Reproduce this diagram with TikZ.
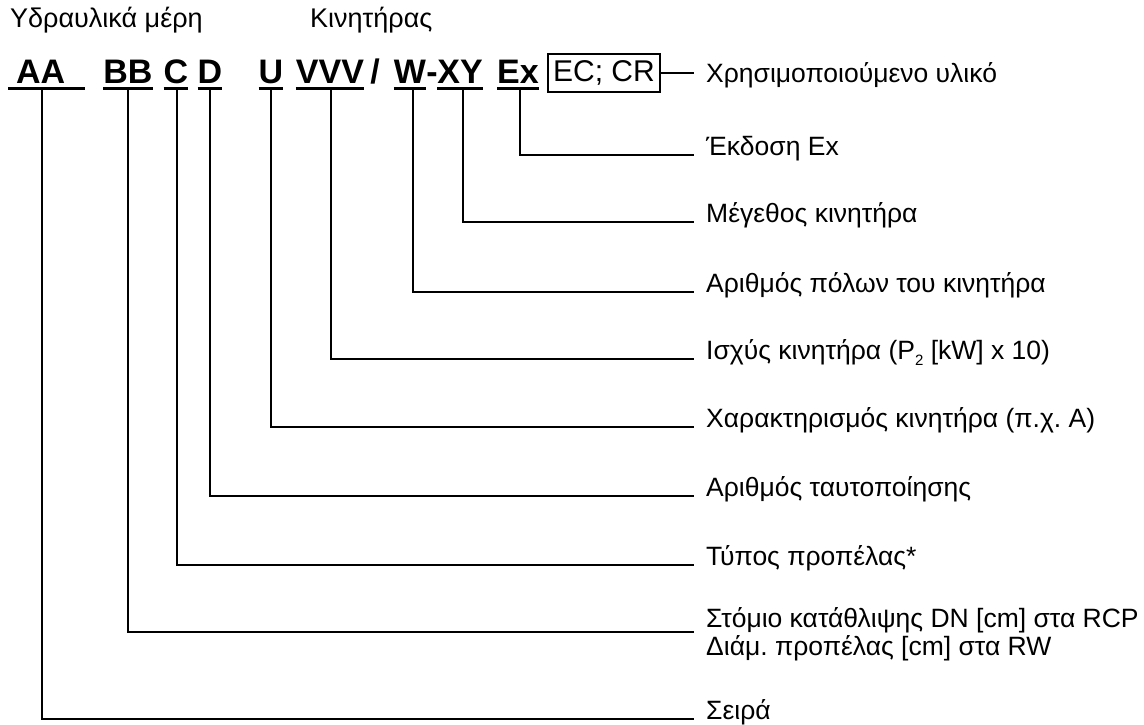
\documentclass[tikz,border=0pt]{standalone}
\usepackage{fontspec}
\setmainfont{Liberation Sans}
\frenchspacing
\begin{document}
\begin{tikzpicture}[x=1pt,y=-1pt,
  code/.style={font=\fontsize{34}{36}\selectfont\bfseries, inner sep=0pt, text depth=0pt, anchor=base},
  lab/.style={font=\fontsize{26.5}{28}\selectfont, inner xsep=12pt, inner ysep=0pt, anchor=base west, align=left},
  head/.style={font=\fontsize{27}{30}\selectfont, inner sep=0pt, anchor=base west},
  ul/.style={line width=3pt},
  conn/.style={line width=1.6pt},
]
\useasboundingbox (0,0) rectangle (1144,725);

% group headings
\node[head] (hyd) at (10,28) {Υδραυλικά μέρη};
\node[head] (mot) at (310,28) {Κινητήρας};

% type code
\node[code,anchor=base west] (aa) at (8,84) {\hspace*{8pt}AA\hspace*{19pt}};
\node[code] (bb) at (128,84) {BB};
\node[code] (c) at (176,84) {C};
\node[code] (d) at (210,84) {D};
\node[code] (u) at (271,84) {U};
\node[code] (v) at (330,84) {VVV};
\node[code] (slash) at (375,84) {/};
\node[code] (w) at (410,84) {W};
\node[code] (dash) at (432,84) {-};
\node[code] (xy) at (460,84) {XY};
\node[code] (ex) at (518,84) {Ex};
\node[draw, line width=1.3pt, minimum width=112pt, minimum height=38pt, inner sep=0pt,
      font=\fontsize{30}{32}\selectfont] (mat) at (604,73) {EC; CR};

% underlines
\foreach \n in {aa,bb,c,d,u,v,w,xy,ex}
  \draw[ul] ([yshift=-4pt]\n.south west) -- ([yshift=-4pt]\n.south east);

% descriptions
\node[lab] (lmat) at (694,82) {Χρησιμοποιούμενο υλικό};
\node[lab] (lex) at (694,155) {Έκδοση Ex};
\node[lab] (lxy) at (694,222) {Μέγεθος κινητήρα};
\node[lab] (lw) at (694,292) {Αριθμός πόλων του κινητήρα};
\node[lab] (lv) at (694,359) {Ισχύς κινητήρα (P\raisebox{-6pt}{\fontsize{15}{15}\selectfont 2} [kW] x 10)};
\node[lab] (lu) at (694,427) {Χαρακτηρισμός κινητήρα (π.χ. A)};
\node[lab] (ld) at (694,496) {Αριθμός ταυτοποίησης};
\node[lab] (lc) at (694,565) {Τύπος προπέλας*};
\node[lab] (lbb) at (694,655) {Στόμιο κατάθλιψης DN [cm] στα RCP\\Διάμ. προπέλας [cm] στα RW};
\node[lab] (laa) at (694,719) {Σειρά};
\coordinate (bbend) at ([yshift=23pt]lbb.base west);

% leader lines
\draw[conn] (mat.east) -- (mat.east -| lmat.west);
\draw[conn] ([xshift=2pt,yshift=-4pt]ex.south) |- (lex.base west);
\draw[conn] ([xshift=3pt,yshift=-4pt]xy.south) |- (lxy.base west);
\draw[conn] ([xshift=3pt,yshift=-4pt]w.south) |- (lw.base west);
\draw[conn] ([xshift=1pt,yshift=-4pt]v.south) |- (lv.base west);
\draw[conn] ([yshift=-4pt]u.south) |- (lu.base west);
\draw[conn] ([yshift=-4pt]d.south) |- (ld.base west);
\draw[conn] ([xshift=1pt,yshift=-4pt]c.south) |- (lc.base west);
\draw[conn] ([yshift=-4pt]bb.south) |- (bbend);
\draw[conn] ([xshift=-4pt,yshift=-4pt]aa.south) |- (laa.base west);
\end{tikzpicture}
\end{document}
